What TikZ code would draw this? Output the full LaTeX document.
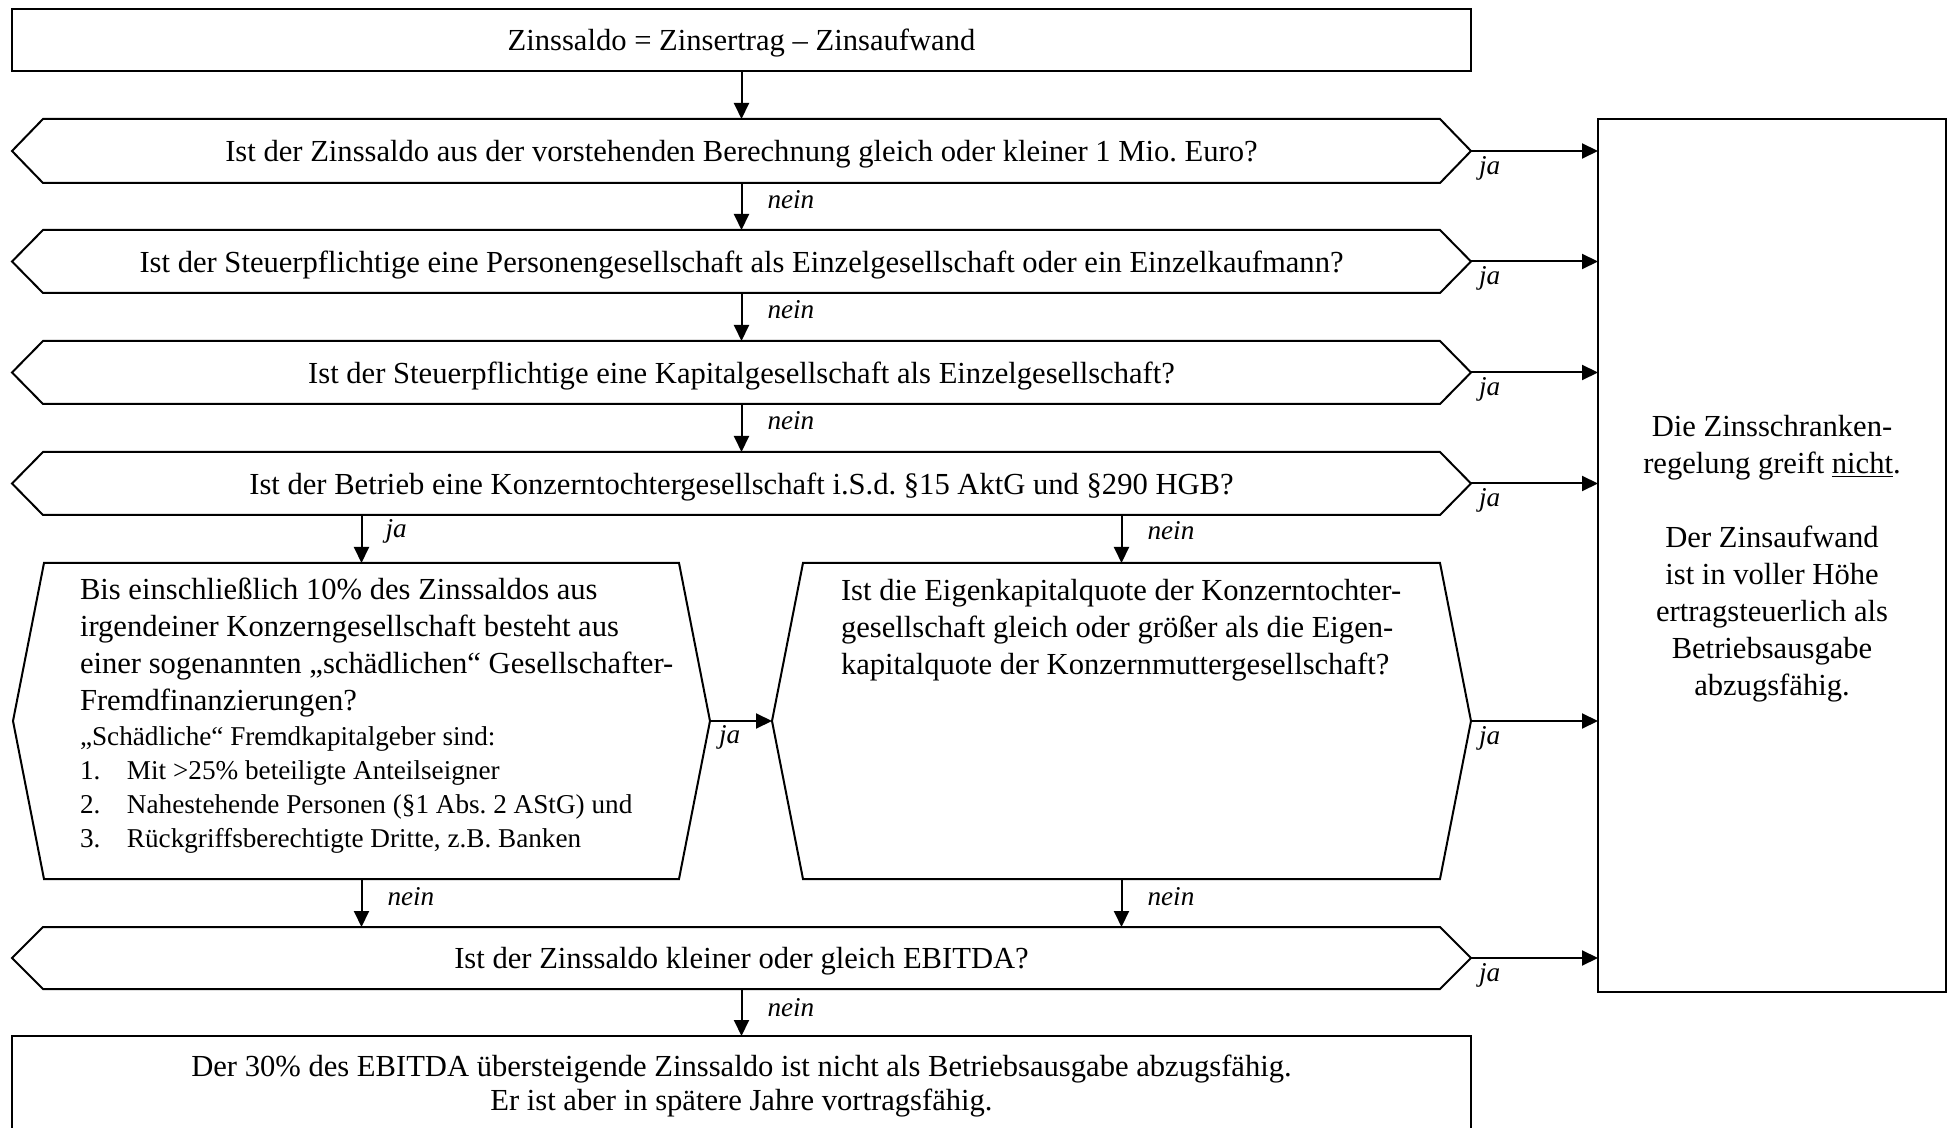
\documentclass[tikz,border=0pt]{standalone}
\usepackage{fontspec}
\setmainfont{Liberation Serif}
\usetikzlibrary{arrows.meta,calc}
\frenchspacing

\tikzset{
  every node/.style={inner sep=0pt, outer sep=0pt},
  frame/.style={draw, line width=1pt, rectangle},
  flow/.style={line width=1pt, -{Triangle[length=8pt,width=7.5pt]}},
  outline/.style={line width=1pt, line join=miter},
  big/.style={font=\fontsize{15.3}{18.5}\selectfont},
  oneline/.style={big, text depth=0pt, minimum width=729.5pt},
  lbl/.style={font=\fontsize{13.6}{16}\selectfont\itshape, anchor=west},
}

% pointed outline drawn around an (invisible) rectangular node
\newcommand\hexpath[1]{%
  \draw[outline] (#1.west) -- ($(#1.north west)+(31,0)$) -- ($(#1.north east)+(-31,0)$)
    -- (#1.east) -- ($(#1.south east)+(-31,0)$) -- ($(#1.south west)+(31,0)$) -- cycle;}
\newcommand\listfont{\fontsize{13.6}{16.8}\selectfont}

\begin{document}
\begin{tikzpicture}[x=0.5pt, y=-0.5pt]
\useasboundingbox (0,0) rectangle (1950,1128);

% boxes
\node[frame, oneline, minimum height=31pt] (sum) at (741.5,40)
  {Zinssaldo = Zinsertrag – Zinsaufwand};
\node[oneline, minimum height=32pt] (q1) at (741.5,151)
  {Ist der Zinssaldo aus der vorstehenden Berechnung gleich oder kleiner 1 Mio. Euro?};
\node[oneline, minimum height=31.5pt] (q2) at (741.5,261.5)
  {Ist der Steuerpflichtige eine Personengesellschaft als Einzelgesellschaft oder ein Einzelkaufmann?};
\node[oneline, minimum height=31.5pt] (q3) at (741.5,372.5)
  {Ist der Steuerpflichtige eine Kapitalgesellschaft als Einzelgesellschaft?};
\node[oneline, minimum height=31.5pt] (q4) at (741.5,483.5)
  {Ist der Betrieb eine Konzerntochtergesellschaft i.S.d. §15 AktG und §290 HGB?};
\node[minimum width=348.5pt, minimum height=158pt] (q5) at (361.5,721) {};
\node[minimum width=349.5pt, minimum height=158pt] (q6) at (1121.5,721) {};
\node[oneline, minimum height=31pt] (q7) at (741.5,958)
  {Ist der Zinssaldo kleiner oder gleich EBITDA?};
\node[frame, minimum width=174pt, minimum height=436.5pt] (res) at (1772,555.5) {};
\node[big, align=center] (restext) at ($(res.center)+(0,3)$)
  {Die Zinsschranken-\\regelung greift \underline{nicht}.\\[18.5pt]Der Zinsaufwand\\ist in voller Höhe\\ertragsteuerlich als\\Betriebsausgabe\\abzugsfähig.};
\node[frame, font=\fontsize{15.3}{17}\selectfont, align=center, minimum width=729.5pt, minimum height=50pt] (fin) at (741.5,1086)
  {Der 30\% des EBITDA übersteigende Zinssaldo ist nicht als Betriebsausgabe abzugsfähig.\\Er ist aber in spätere Jahre vortragsfähig.};

\foreach \n in {q1,q2,q3,q4,q5,q6,q7} {\hexpath{\n}}

% texts of the two tall decisions
\node[anchor=north west, align=left, big] (t5) at (80,578)
  {Bis einschließlich 10\% des Zinssaldos aus\\irgendeiner Konzerngesellschaft besteht aus\\einer sogenannten „schädlichen“ Gesellschafter-\\Fremdfinanzierungen?\\[-1pt]%
   {\listfont „Schädliche“ Fremdkapitalgeber sind:}\\[-1.5pt]%
   {\listfont\makebox[23.5pt][l]{1.}Mit >25\% beteiligte Anteilseigner}\\[-1.5pt]%
   {\listfont\makebox[23.5pt][l]{2.}Nahestehende Personen (§1 Abs. 2 AStG) und}\\[-1.5pt]%
   {\listfont\makebox[23.5pt][l]{3.}Rückgriffsberechtigte Dritte, z.B. Banken}};
\node[anchor=north west, align=left, big] (t6) at (841,579)
  {Ist die Eigenkapitalquote der Konzerntochter-\\gesellschaft gleich oder größer als die Eigen-\\kapitalquote der Konzernmuttergesellschaft?};

% main flow
\draw[flow] (sum.south) -- (q1.north);
\draw[flow] (q1.south) -- (q2.north);
\draw[flow] (q2.south) -- (q3.north);
\draw[flow] (q3.south) -- (q4.north);
\draw[flow] (q4.south -| q5.north) -- (q5.north);
\draw[flow] (q4.south -| q6.north) -- (q6.north);
\draw[flow] (q5.east) -- (q6.west);
\draw[flow] (q5.south) -- (q5.south |- q7.north);
\draw[flow] (q6.south) -- (q6.south |- q7.north);
\draw[flow] (q7.south) -- (fin.north);

% yes branches to the result box
\foreach \n in {q1,q2,q3,q4,q6,q7} {
  \draw[flow] (\n.east) -- (\n.east -| res.west);
  \node[lbl] (ja-\n) at ($(\n.east)+(8,17)$) {ja};
}

% branch labels
\node[lbl] (nein1) at ($(q1.south)+(26,17)$) {nein};
\node[lbl] (nein2) at ($(q2.south)+(26,17)$) {nein};
\node[lbl] (nein3) at ($(q3.south)+(26,17)$) {nein};
\node[lbl] (ja5) at ($(q4.south -| q5.north)+(24,16)$) {ja};
\node[lbl] (nein6) at ($(q4.south -| q6.north)+(26,16)$) {nein};
\node[lbl] (ja56) at ($(q5.east)+(9,16)$) {ja};
\node[lbl] (nein5) at ($(q5.south)+(26,18)$) {nein};
\node[lbl] (nein7) at ($(q6.south)+(26,18)$) {nein};
\node[lbl] (nein8) at ($(q7.south)+(26,19)$) {nein};
\end{tikzpicture}
\end{document}
